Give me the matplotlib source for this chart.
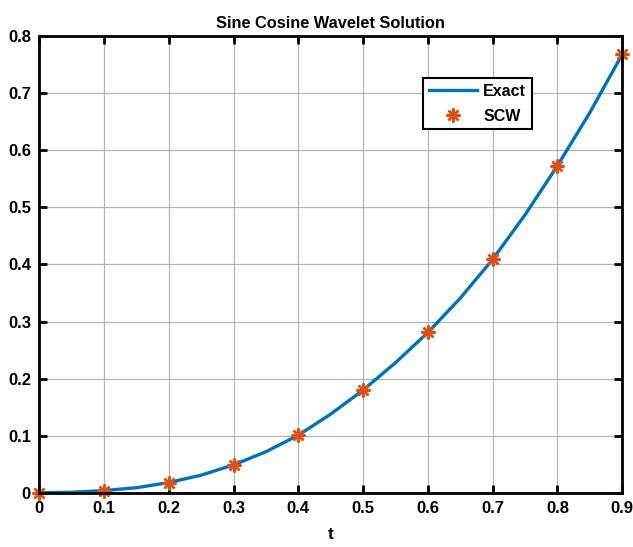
import matplotlib
matplotlib.use('Agg')
import matplotlib.pyplot as plt

# Exact solution
t_exact = [0, 0.05, 0.1, 0.15, 0.2, 0.25, 0.3, 0.35, 0.4, 0.45,
           0.5, 0.55, 0.6, 0.65, 0.7, 0.75, 0.8, 0.85, 0.9]
y_exact = [0, 0.001, 0.004, 0.009, 0.018, 0.031, 0.049, 0.072, 0.101, 0.138,
           0.180, 0.228, 0.281, 0.341, 0.409, 0.487, 0.573, 0.666, 0.768]

# Sine cosine wavelet points
t_scw = [0, 0.1, 0.2, 0.3, 0.4, 0.5, 0.6, 0.7, 0.8, 0.9]
y_scw = [0, 0.004, 0.018, 0.049, 0.101, 0.180, 0.281, 0.409, 0.573, 0.768]

xticks = [0, 0.1, 0.2, 0.3, 0.4, 0.5, 0.6, 0.7, 0.8, 0.9]
yticks = [0, 0.1, 0.2, 0.3, 0.4, 0.5, 0.6, 0.7, 0.8]

plt.rcParams['font.family'] = ['Liberation Sans', 'DejaVu Sans']
plt.rcParams['font.weight'] = 'bold'

fig = plt.figure(figsize=(6.33, 5.47), dpi=100)
ax = fig.add_axes([0.062, 0.099, 0.921, 0.835])

ax.plot(t_exact, y_exact, color='#0072BD', linewidth=2.4, label='Exact',
        solid_joinstyle='round')
ax.plot(t_scw, y_scw, linestyle='none', marker=(8, 2, 0), markersize=10,
        markeredgewidth=1.8, color='#D95319', markeredgecolor='#D95319',
        label='SCW', clip_on=False)

ax.set_xlim(0, 0.9)
ax.set_ylim(0, 0.8)
ax.set_xticks(xticks)
ax.set_yticks(yticks)
ax.set_xticklabels([f'{v:g}' for v in xticks])
ax.set_yticklabels([f'{v:g}' for v in yticks])
ax.grid(True, color='#b5b5b5', linewidth=0.9)
ax.tick_params(direction='in', top=True, right=True, length=6, width=2,
               labelsize=12, pad=6)
for s in ax.spines.values():
    s.set_linewidth(2)

ax.set_title('Sine Cosine Wavelet Solution', fontsize=11.8, fontweight='bold', pad=6)
ax.set_xlabel('t', fontsize=12.5, fontweight='bold', labelpad=8)

leg = ax.legend(loc='upper left', bbox_to_anchor=(0.645, 0.925), fontsize=11.5,
                fancybox=False, framealpha=1, edgecolor='black',
                handlelength=3.0, handletextpad=0.4, borderpad=0.35,
                labelspacing=0.6)
leg.get_frame().set_linewidth(1.5)

fig.savefig('out.png', dpi=100)
